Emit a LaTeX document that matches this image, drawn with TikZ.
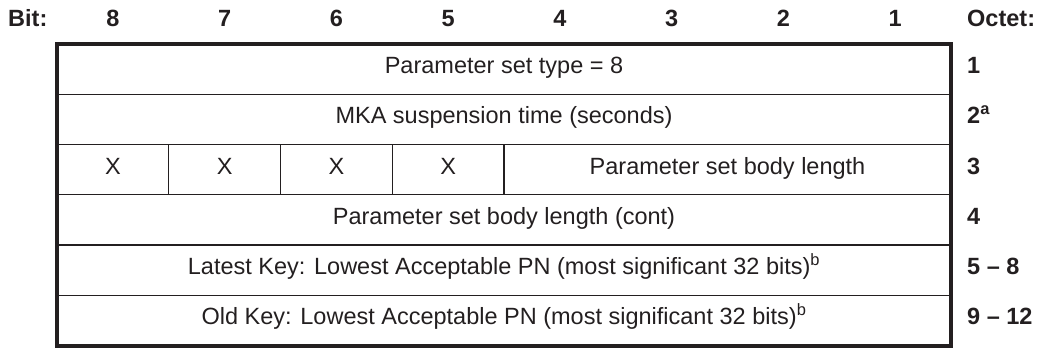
\documentclass[tikz,border=0pt]{standalone}
\usepackage{fontspec}
\setmainfont{Liberation Sans}
\usetikzlibrary{positioning}
\definecolor{inkdark}{HTML}{231F20}
\newcommand{\fieldfont}{\fontsize{23.5}{28}\selectfont}
\newcommand{\headfont}{\fontsize{23.5}{28}\selectfont\bfseries}
\tikzset{
  cell/.style={
    rectangle, draw=inkdark, line width=1.2pt, inner sep=0pt, outer sep=0pt,
    minimum height=50.25pt, text height=14pt, text depth=5pt,
    font=\fieldfont, text=inkdark
  },
  field/.style={cell, minimum width=894pt},
  bitcell/.style={cell, minimum width=111.75pt},
  lencell/.style={cell, minimum width=447pt},
  headlabel/.style={font=\headfont, text=inkdark, inner sep=0pt, anchor=base},
  octetnum/.style={
    font=\headfont, text=inkdark, inner sep=0pt,
    text height=14pt, text depth=5pt
  },
  frame/.style={draw=inkdark, line width=4pt}
}

\begin{document}
\begin{tikzpicture}[x=1pt, y=1pt]
\useasboundingbox (0,0) rectangle (1039,-348);
% header line
\node[headlabel, anchor=base west] (bit) at (8,-27) {Bit:};
\node[headlabel] (b8) at (112.9,-27) {8};
\node[headlabel] (b7) at (224.6,-27) {7};
\node[headlabel] (b6) at (336.4,-27) {6};
\node[headlabel] (b5) at (448.1,-27) {5};
\node[headlabel] (b4) at (559.9,-27) {4};
\node[headlabel] (b3) at (671.6,-27) {3};
\node[headlabel] (b2) at (783.4,-27) {2};
\node[headlabel] (b1) at (895.1,-27) {1};
\node[headlabel, anchor=base west] (octet) at (967,-27) {Octet:};
% fields
\node[field, anchor=north west] (r1) at (57,-44) {Parameter set type = 8};
\node[field, below=0pt of r1] (r2) {MKA suspension time (seconds)};
\node[bitcell, below right=0pt of r2.south west] (x8) {X};
\node[bitcell, right=0pt of x8] (x7) {X};
\node[bitcell, right=0pt of x7] (x6) {X};
\node[bitcell, right=0pt of x6] (x5) {X};
\node[lencell, right=0pt of x5] (len) {Parameter set body length};
\node[field, below right=0pt of x8.south west] (r4) {Parameter set body length (cont)};
\node[field, below=0pt of r4] (r5) {Latest Key: Lowest Acceptable PN (most significant 32 bits)\textsuperscript{b}};
\node[field, below=0pt of r5] (r6) {Old Key: Lowest Acceptable PN (most significant 32 bits)\textsuperscript{b}};
\draw[frame] (r1.north west) rectangle (r6.south east);
% octet numbers
\node[octetnum, right=16pt of r1] (o1) {1};
\node[octetnum, right=16pt of r2] (o2) {2\textsuperscript{a}};
\node[octetnum, right=16pt of len] (o3) {3};
\node[octetnum, right=16pt of r4] (o4) {4};
\node[octetnum, right=16pt of r5] (o5) {5 -- 8};
\node[octetnum, right=16pt of r6] (o6) {9 -- 12};
\end{tikzpicture}
\end{document}
